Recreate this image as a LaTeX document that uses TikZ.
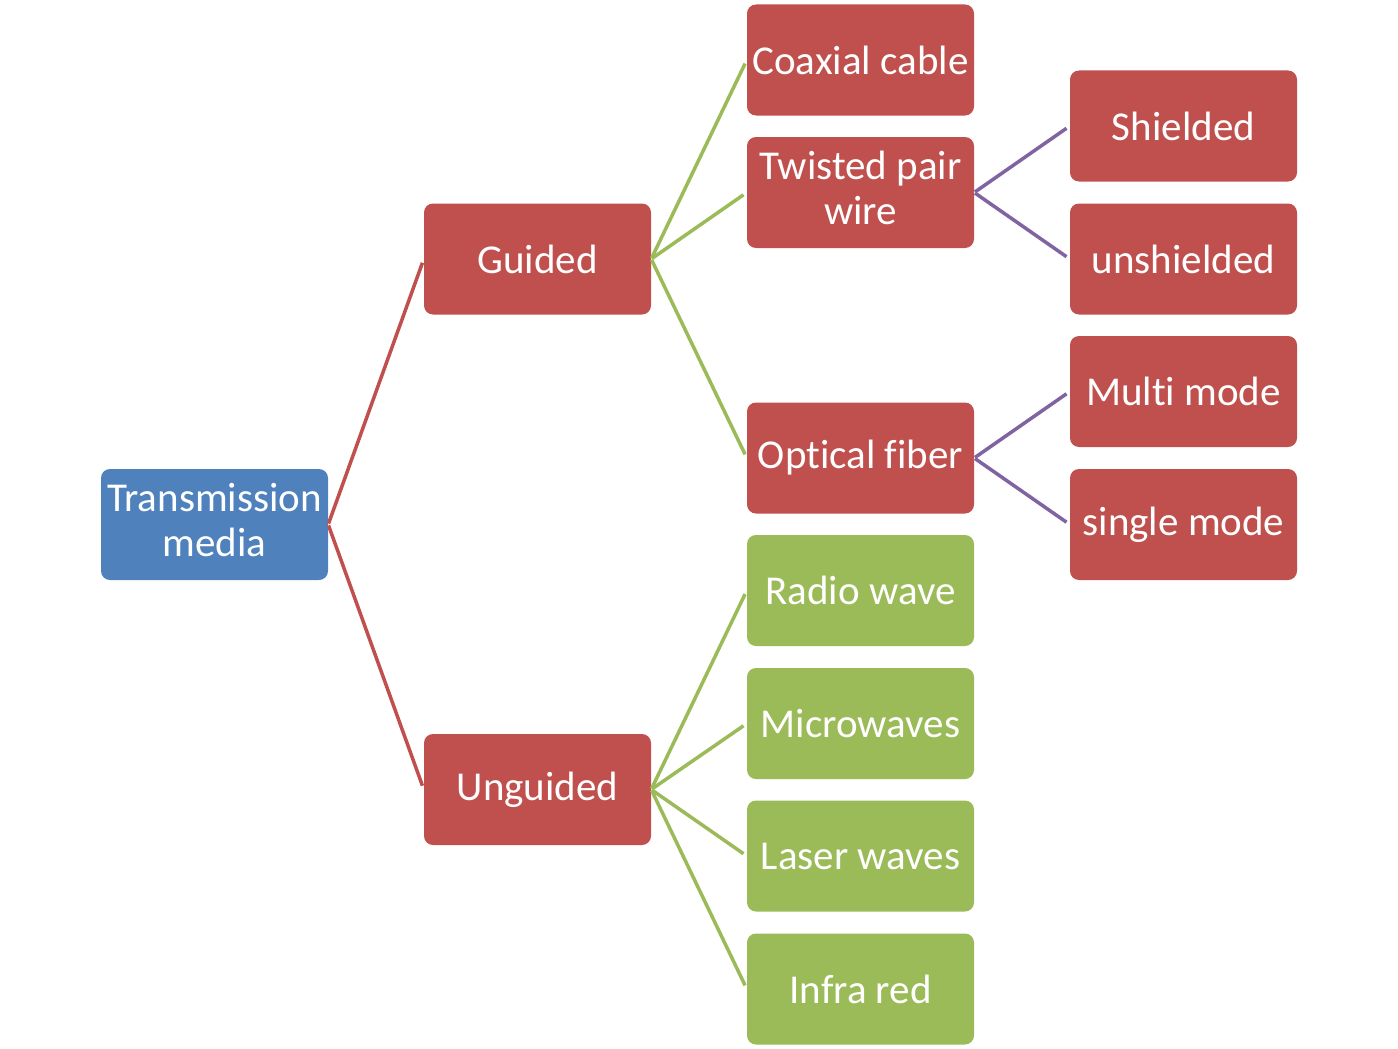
\documentclass[tikz,border=0pt]{standalone}
\usepackage{fontspec}
\setmainfont{Carlito}[Ligatures=NoCommon]
\definecolor{cblue}{HTML}{4F81BD}
\definecolor{cred}{HTML}{C0504D}
\definecolor{cgreen}{HTML}{9BBB59}
\definecolor{cpurple}{HTML}{8064A2}
\newcommand{\twolines}[2]{\raisebox{-3pt}{\begin{tabular}{@{}c@{}}#1\\#2\end{tabular}}}
\begin{document}
\begin{tikzpicture}[x=1pt,y=-1pt,
  box/.style={rectangle, rounded corners=9pt, minimum width=227pt, minimum height=111pt,
    inner sep=0pt, text=white,
    font=\fontsize{41}{45}\selectfont},
  rbox/.style={box, fill=cred},
  gbox/.style={box, fill=cgreen},
  bbox/.style={box, fill=cblue},
  link/.style={line width=3.5pt, shorten >=4pt, shorten <=1pt}]
\useasboundingbox (0,0) rectangle (1398,1049);
\node[bbox] (root) at (214.5,524.5) {\twolines{Transmission}{media}};
\node[rbox] (guided) at (537.5,259) {Guided};
\node[rbox] (unguided) at (537.5,789.5) {Unguided};
\node[rbox] (coax) at (860.5,60) {Coaxial cable};
\node[rbox] (twisted) at (860.5,192.5) {\twolines{Twisted pair}{wire}};
\node[rbox] (optical) at (860.5,458) {Optical fiber};
\node[gbox] (radio) at (860.5,590.5) {Radio wave};
\node[gbox] (micro) at (860.5,723.5) {Microwaves};
\node[gbox] (laser) at (860.5,856) {Laser waves};
\node[gbox] (infra) at (860.5,989) {Infra red};
\node[rbox] (shielded) at (1183.5,126) {Shielded};
\node[rbox] (unshielded) at (1183.5,259) {unshielded};
\node[rbox] (multi) at (1183.5,391.5) {Multi mode};
\node[rbox] (single) at (1183.5,524.5) {single mode};
\draw[link, cred] (root.east) -- (guided.west);
\draw[link, cred] (root.east) -- (unguided.west);
\foreach \c in {coax,twisted,optical}
  \draw[link, cgreen] (guided.east) -- (\c.west);
\foreach \c in {radio,micro,laser,infra}
  \draw[link, cgreen] (unguided.east) -- (\c.west);
\foreach \c in {shielded,unshielded}
  \draw[link, cpurple] (twisted.east) -- (\c.west);
\foreach \c in {multi,single}
  \draw[link, cpurple] (optical.east) -- (\c.west);
\end{tikzpicture}
\end{document}
